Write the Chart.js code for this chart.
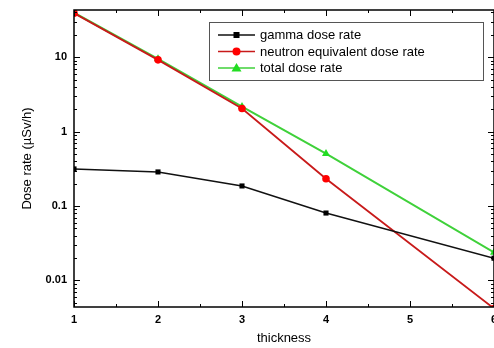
<!DOCTYPE html>
<html>
<head>
<meta charset="utf-8">
<script src="https://cdn.jsdelivr.net/npm/chart.js@4.4.0/dist/chart.umd.min.js"></script>
<style>
  html, body { margin: 0; padding: 0; background: #fff; overflow: hidden; }
  #wrap { width: 500px; height: 348px; }
</style>
</head>
<body>
<div id="wrap"><canvas id="doseChart" width="500" height="348"></canvas></div>
<script>
// thickness values and dose rates
const thickness = [1, 2, 3, 4, 6];
const gammaRate = [0.315, 0.287, 0.186, 0.0805, 0.0199];
const neutronRate = [39, 9.2, 2.04, 0.233, 0.0042];
const totalRate = [39.5, 9.5, 2.17, 0.506, 0.0238];
const seriesNames = ["gamma dose rate", "neutron equivalent dose rate", "total dose rate"];
const xTicks = [1, 2, 3, 4, 5, 6];

function pts(vals) {
  return thickness.map((t, i) => ({ x: t, y: vals[i] }));
}

// inward ticks, frame and the boxed legend
const framePlugin = {
  id: "frame",
  afterDraw(chart) {
    const ctx = chart.ctx;
    const a = chart.chartArea;
    const xs = chart.scales.x, ys = chart.scales.y;
    ctx.save();
    ctx.strokeStyle = "#000";
    ctx.lineWidth = 1.5;
    ctx.strokeRect(a.left, a.top, a.right - a.left, a.bottom - a.top);
    ctx.lineWidth = 1;
    ctx.beginPath();
    for (let v = xs.min; v <= xs.max + 1e-9; v += 0.5) {
      const px = Math.round(xs.getPixelForValue(v)) + 0.5;
      const len = Number.isInteger(v) ? 6 : 3;
      ctx.moveTo(px, a.bottom); ctx.lineTo(px, a.bottom - len);
      ctx.moveTo(px, a.top); ctx.lineTo(px, a.top + len);
    }
    for (let e = -4; e <= 2; e++) {
      for (let m = 1; m <= 9; m++) {
        const v = m * Math.pow(10, e);
        if (v < ys.min || v > ys.max) continue;
        const py = Math.round(ys.getPixelForValue(v)) + 0.5;
        const len = m === 1 ? 6 : 3;
        ctx.moveTo(a.left, py); ctx.lineTo(a.left + len, py);
        ctx.moveTo(a.right, py); ctx.lineTo(a.right - len, py);
      }
    }
    ctx.stroke();

    // legend box
    const bx = 209, by = 22, bw = 274, bh = 58;
    ctx.fillStyle = "#fff";
    ctx.fillRect(bx, by, bw, bh);
    ctx.strokeStyle = "#555";
    ctx.lineWidth = 1;
    ctx.strokeRect(bx + 0.5, by + 0.5, bw, bh);
    const rows = [35, 51.5, 68];
    chart.data.datasets.forEach((ds, i) => {
      const y = rows[i];
      ctx.strokeStyle = ds.borderColor;
      ctx.lineWidth = 1.5;
      ctx.beginPath();
      ctx.moveTo(218, y); ctx.lineTo(255, y);
      ctx.stroke();
      ctx.fillStyle = ds.pointBackgroundColor;
      ctx.beginPath();
      if (ds.pointStyle === "rect") {
        ctx.fillRect(233.5, y - 3, 6, 6);
      } else if (ds.pointStyle === "circle") {
        ctx.arc(236.5, y, 4, 0, Math.PI * 2); ctx.fill();
      } else {
        ctx.moveTo(236.5, y - 5); ctx.lineTo(241.5, y + 3.5); ctx.lineTo(231.5, y + 3.5); ctx.closePath(); ctx.fill();
      }
      ctx.fillStyle = "#000";
      ctx.font = "13px 'Liberation Sans', Arial, sans-serif";
      ctx.textBaseline = "middle";
      ctx.fillText(ds.label, 260, y + 0.5);
    });
    ctx.restore();
  }
};

new Chart(document.getElementById("doseChart"), {
  type: "line",
  data: {
    datasets: [
      {
        label: seriesNames[0], data: pts(gammaRate),
        borderColor: "#111", backgroundColor: "#000", pointBackgroundColor: "#000",
        pointStyle: "rect", pointRadius: 3.6, borderWidth: 1.5, pointBorderWidth: 0
      },
      {
        label: seriesNames[1], data: pts(neutronRate),
        borderColor: "#c81a1a", backgroundColor: "#ff0000", pointBackgroundColor: "#ff0000",
        pointStyle: "circle", pointRadius: 3.8, borderWidth: 1.8, pointBorderWidth: 0
      },
      {
        label: seriesNames[2], data: pts(totalRate),
        borderColor: "#3fd13a", backgroundColor: "#22dd22", pointBackgroundColor: "#22dd22",
        pointStyle: "triangle", pointRadius: 4.6, borderWidth: 2, pointBorderWidth: 0
      }
    ]
  },
  options: {
    responsive: false,
    animation: false,
    layout: { padding: { top: 10, right: 6, left: 0, bottom: 0 } },
    plugins: { legend: { display: false }, tooltip: { enabled: false } },
    scales: {
      x: {
        type: "linear", min: 1, max: 6,
        afterBuildTicks: (s) => { s.ticks = xTicks.map(v => ({ value: v })); },
        grid: { display: false, drawTicks: false },
        border: { display: false },
        ticks: {
          padding: 6, color: "#000",
          font: { family: "'Liberation Sans', Arial, sans-serif", size: 11, weight: "bold" }
        },
        title: {
          display: true, text: "thickness", color: "#000",
          font: { family: "'Liberation Sans', Arial, sans-serif", size: 13 },
          padding: { top: 2, bottom: 2 }
        },
        afterFit: (s) => { s.height = 41; s.paddingLeft = 0; s.paddingRight = 0; }
      },
      y: {
        type: "logarithmic", min: 0.0044, max: 43,
        grid: { display: false, drawTicks: false },
        border: { display: false },
        ticks: {
          padding: 7, color: "#000", autoSkip: false,
          font: { family: "'Liberation Sans', Arial, sans-serif", size: 11, weight: "bold" },
          callback: (v) => {
            const l = Math.log10(v);
            if (Math.abs(l - Math.round(l)) > 1e-6) return "";
            const e = Math.round(l);
            return e >= 0 ? String(Math.pow(10, e)) : Math.pow(10, e).toFixed(-e);
          }
        },
        title: {
          display: true, text: "Dose rate (\u00b5Sv/h)", color: "#000",
          font: { family: "'Liberation Sans', Arial, sans-serif", size: 13 },
          padding: { top: 20, bottom: 0 }
        },
        afterFit: (s) => { s.width = 74; s.paddingTop = 0; s.paddingBottom = 0; }
      }
    }
  },
  plugins: [framePlugin]
});
</script>
</body>
</html>
